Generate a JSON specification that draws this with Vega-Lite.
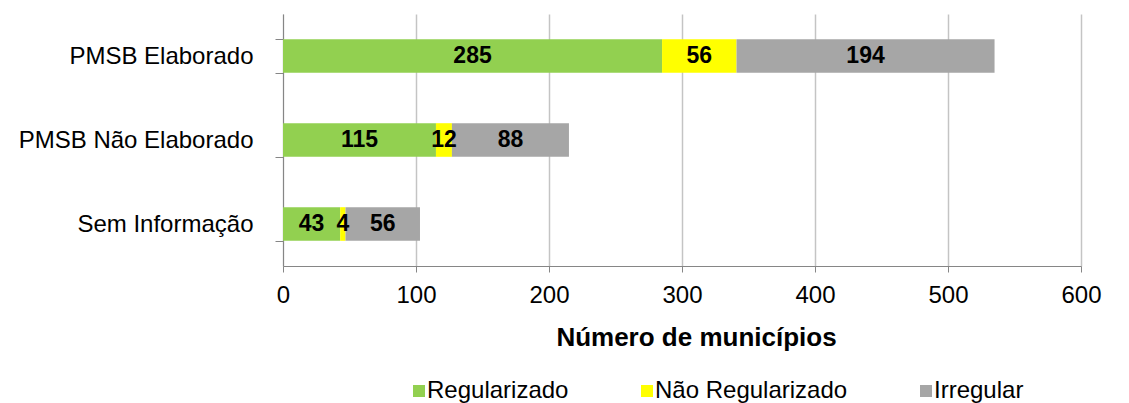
{
  "$schema": "https://vega.github.io/schema/vega-lite/v6.json",
  "autosize": {"type": "none"},
  "padding": {"left": 283, "top": 14, "right": 47, "bottom": 137},
  "width": 798,
  "height": 252,
  "config": {
    "font": "Liberation Sans",
    "view": {"stroke": null}
  },
  "data": {
    "values": [
      {"categoria": "PMSB Elaborado", "situacao": "Regularizado", "ord": 1, "valor": 285},
      {"categoria": "PMSB Elaborado", "situacao": "Não Regularizado", "ord": 2, "valor": 56},
      {"categoria": "PMSB Elaborado", "situacao": "Irregular", "ord": 3, "valor": 194},
      {"categoria": "PMSB Não Elaborado", "situacao": "Regularizado", "ord": 1, "valor": 115},
      {"categoria": "PMSB Não Elaborado", "situacao": "Não Regularizado", "ord": 2, "valor": 12},
      {"categoria": "PMSB Não Elaborado", "situacao": "Irregular", "ord": 3, "valor": 88},
      {"categoria": "Sem Informação", "situacao": "Regularizado", "ord": 1, "valor": 43},
      {"categoria": "Sem Informação", "situacao": "Não Regularizado", "ord": 2, "valor": 4},
      {"categoria": "Sem Informação", "situacao": "Irregular", "ord": 3, "valor": 56}
    ]
  },
  "encoding": {
    "y": {
      "field": "categoria",
      "type": "nominal",
      "sort": ["PMSB Elaborado", "PMSB Não Elaborado", "Sem Informação"],
      "scale": {"paddingInner": 0.6, "paddingOuter": 0.3},
      "axis": {
        "title": null,
        "tickBand": "extent",
        "tickSize": 8,
        "tickColor": "#868686",
        "domainColor": "#868686",
        "labelFontSize": 24,
        "labelColor": "#000000",
        "labelPadding": 22,
        "labelLimit": 400,
        "grid": false
      }
    }
  },
  "layer": [
    {
      "mark": {"type": "bar"},
      "encoding": {
        "x": {
          "field": "valor",
          "type": "quantitative",
          "stack": "zero",
          "scale": {"domain": [0, 600], "nice": false},
          "axis": {
            "title": "Número de municípios",
            "titleFontSize": 26,
            "titleFontWeight": "bold",
            "titleColor": "#000000",
            "titlePadding": 17,
            "titleX": 413,
            "titleAlign": "center",
            "values": [0, 100, 200, 300, 400, 500, 600],
            "format": "d",
            "grid": true,
            "gridColor": "#C4C4C4",
            "gridWidth": 1.5,
            "tickSize": 6,
            "tickColor": "#868686",
            "domainColor": "#868686",
            "labelFontSize": 24,
            "labelColor": "#000000",
            "labelPadding": 11,
            "labelFlush": false,
            "labelOverlap": false
          }
        },
        "color": {
          "field": "situacao",
          "type": "nominal",
          "scale": {
            "domain": ["Regularizado", "Não Regularizado", "Irregular"],
            "range": ["#92D050", "#FFFF00", "#A6A6A6"]
          },
          "legend": {
            "title": null,
            "orient": "none",
            "direction": "horizontal",
            "legendX": 124,
            "legendY": 365,
            "padding": 0,
            "symbolType": "square",
            "symbolSize": 144,
            "symbolStrokeWidth": 0,
            "labelFontSize": 24,
            "labelColor": "#000000",
            "labelOffset": -4,
            "labelLimit": 400,
            "columnPadding": 66
          }
        },
        "order": {"field": "ord", "type": "quantitative"}
      }
    },
    {
      "transform": [
        {"stack": "valor", "groupby": ["categoria"], "sort": [{"field": "ord"}], "as": ["v0", "v1"]},
        {"calculate": "(datum.v0 + datum.v1) / 2", "as": "meio"}
      ],
      "mark": {"type": "text", "fontSize": 23, "fontWeight": "bold", "color": "#000000"},
      "encoding": {
        "x": {"field": "meio", "type": "quantitative"},
        "text": {"field": "valor", "type": "quantitative"}
      }
    }
  ]
}
